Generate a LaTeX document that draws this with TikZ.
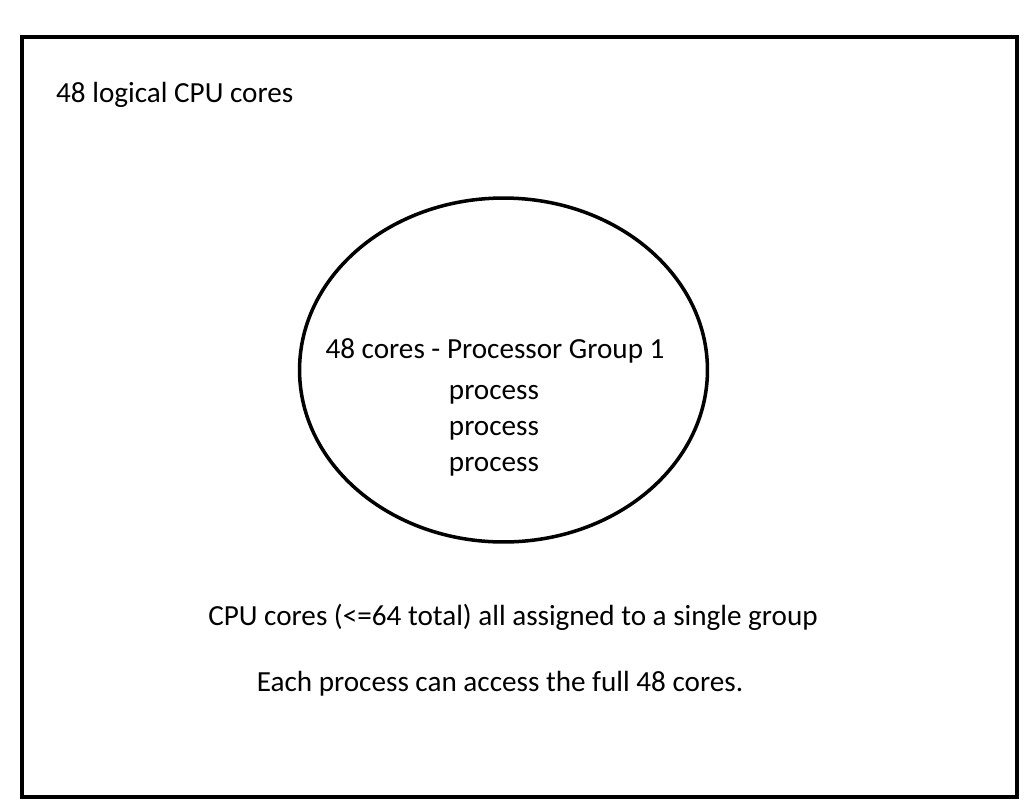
\documentclass[tikz,border=0pt]{standalone}
\usepackage{fontspec}
\setmainfont{Carlito}
\usetikzlibrary{shapes.geometric}
\begin{document}
\begin{tikzpicture}[x=0.02cm, y=-0.02cm, every node/.style={font=\fontsize{16.6}{20}\selectfont}]
        \useasboundingbox (0,0) rectangle (1032,802);
        % frame and group
        \node(frame) [draw, line width=2pt, minimum width=19.9cm, minimum height=15.2cm] at (519.5,417) {};
        \node(group) [ellipse, draw, line width=2pt, minimum width=8.16cm, minimum height=6.88cm] at (503.5,370) {};

        % labels
        \node(total) [anchor=west] at (50,95) {48 logical CPU cores};
        \node(name) at (495,351) {48 cores - Processor Group 1};
        \node(p1) at (494,395) {process};
        \node(p2) at (494,431) {process};
        \node(p3) at (494,467) {process};
        \node(note1) at (513,617) {CPU cores (<=64 total) all assigned to a single group};
        \node(note2) at (500,684) {Each process can access the full 48 cores.};
    \end{tikzpicture}
\end{document}
